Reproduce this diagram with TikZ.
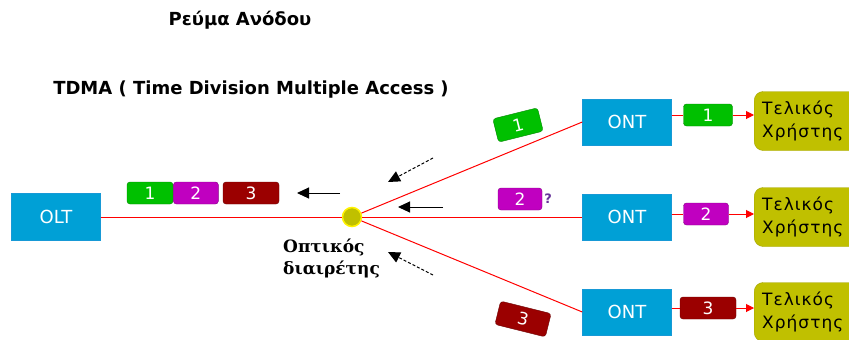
\documentclass[tikz,border=0pt]{standalone}
\usepackage{fontspec}
\setmainfont{DejaVu Sans}
\newfontfamily\grserif{DejaVu Serif}
\newfontfamily\widesans[LetterSpace=6]{DejaVu Sans}
\usepackage{tikz}
\usetikzlibrary{arrows.meta, positioning, calc}
\definecolor{netblue}{RGB}{0,160,214}
\definecolor{pktgreen}{RGB}{0,192,0}
\definecolor{pktmagenta}{RGB}{192,0,192}
\definecolor{pktred}{RGB}{155,0,0}
\definecolor{userolive}{RGB}{192,192,0}
\tikzset{
  netbox/.style={rectangle, fill=netblue, draw=cyan!50!netblue, text=white,
                 minimum width=89pt, minimum height=46pt, font=\fontsize{18}{20}\selectfont},
  userbox/.style={rectangle, rounded corners=9pt, fill=userolive, draw=userolive!85!black,
                  anchor=west, text width=90pt, align=left, inner xsep=8pt,
                  minimum height=59pt, font=\widesans\fontsize{17}{23}\selectfont},
  packet/.style={rectangle, rounded corners=3pt, draw=#1!70!black, fill=#1, text=white,
                 minimum height=22pt, inner sep=0pt, font=\fontsize{17}{19}\selectfont},
  fiber/.style={red, line width=1pt},
  upflow/.style={-{Triangle[length=12pt,width=11pt]}, line width=1pt},
  splitter/.style={circle, fill=userolive, draw=yellow, line width=1.5pt,
                   minimum size=19pt, inner sep=0pt}
}

\begin{document}
\begin{tikzpicture}[x=1pt, y=-1pt]
  \useasboundingbox (0,0) rectangle (849,340);

  % Titles
  \node[font=\fontsize{18}{20}\selectfont\bfseries] (title) at (240,20) {Ρεύμα Ανόδου};
  \node[font=\fontsize{18}{20}\selectfont\bfseries] (tdma) at (251,90)
        {TDMA ( Time Division Multiple Access )};

  % OLT and splitter
  \node[netbox, minimum height=47pt] (olt) at (56,217) {OLT};
  \node[splitter] (split) at (352,217) {};
  \node[anchor=north west, align=left, inner sep=0pt,
        font=\grserif\fontsize{17}{22}\selectfont\bfseries] (splitlbl) at (283,239)
        {Οπτικός\\διαιρέτης};

  % ONTs
  \node[netbox] (ont1) at (627,122) {ONT};
  \node[netbox] (ont2) at (627,217) {ONT};
  \node[netbox] (ont3) at (627,312) {ONT};

  % End users
  \node[userbox] (user1) at (754,121) {Τελικός\\Χρήστης};
  \node[userbox] (user2) at (754,217) {Τελικός\\Χρήστης};
  \node[userbox] (user3) at (754,312) {Τελικός\\Χρήστης};

  % Fibres
  \draw[fiber] (olt.east) -- (split);
  \draw[fiber] (split) -- (ont1.west);
  \draw[fiber] (split) -- (ont2.west);
  \draw[fiber] (split) -- (ont3.west);

  % Packets ONT -> user
  \node[packet=pktgreen, minimum width=49pt] (q1) at (708,115) {1};
  \node[packet=pktmagenta, minimum width=45pt] (q2) at (706,214) {2};
  \node[packet=pktred, minimum width=56pt] (q3) at (708,308) {3};
  \draw[fiber] (ont1.east |- q1) -- (q1.west);
  \draw[fiber] (ont2.east |- q2) -- (q2.west);
  \draw[fiber] (ont3.east |- q3) -- (q3.west);
  \draw[fiber, -{Triangle[length=8pt,width=8pt]}] (q1.east) -- (user1.west |- q1);
  \draw[fiber, -{Triangle[length=8pt,width=8pt]}] (q2.east) -- (user2.west |- q2);
  \draw[fiber, -{Triangle[length=8pt,width=8pt]}] (q3.east) -- (user3.west |- q3);

  % Packets on the branches
  \node[packet=pktgreen, minimum width=46pt, minimum height=24pt, rotate=14] (b1) at (518,125) {1};
  \node[packet=pktmagenta, minimum width=44pt] (b2) at (520,199) {2};
  \node[font=\fontsize{13}{14}\selectfont\bfseries, text=blue!60!orange, inner sep=0pt,
        right=2pt of b2] (b2q) {?};
  \node[packet=pktred, minimum width=52pt, minimum height=24pt, rotate=-14] (b3) at (523,319) {3};

  % Packets towards the OLT
  \node[packet=pktgreen, minimum width=46pt] (o1) at (150,193) {1};
  \node[packet=pktmagenta, minimum width=45pt, right=0pt of o1] (o2) {2};
  \node[packet=pktred, minimum width=56pt] (o3) at (251,193) {3};

  % Upstream direction
  \coordinate (a1s) at (433,158); \coordinate (a1e) at (388,182);
  \coordinate (a2s) at (443,207); \coordinate (a2e) at (398,207);
  \coordinate (a3s) at (433,275); \coordinate (a3e) at (388,252);
  \coordinate (a4s) at (340,193); \coordinate (a4e) at (297,193);
  \draw[upflow, densely dashed] (a1s) -- (a1e);
  \draw[upflow] (a2s) -- (a2e);
  \draw[upflow, densely dashed] (a3s) -- (a3e);
  \draw[upflow] (a4s) -- (a4e);
\end{tikzpicture}
\end{document}
